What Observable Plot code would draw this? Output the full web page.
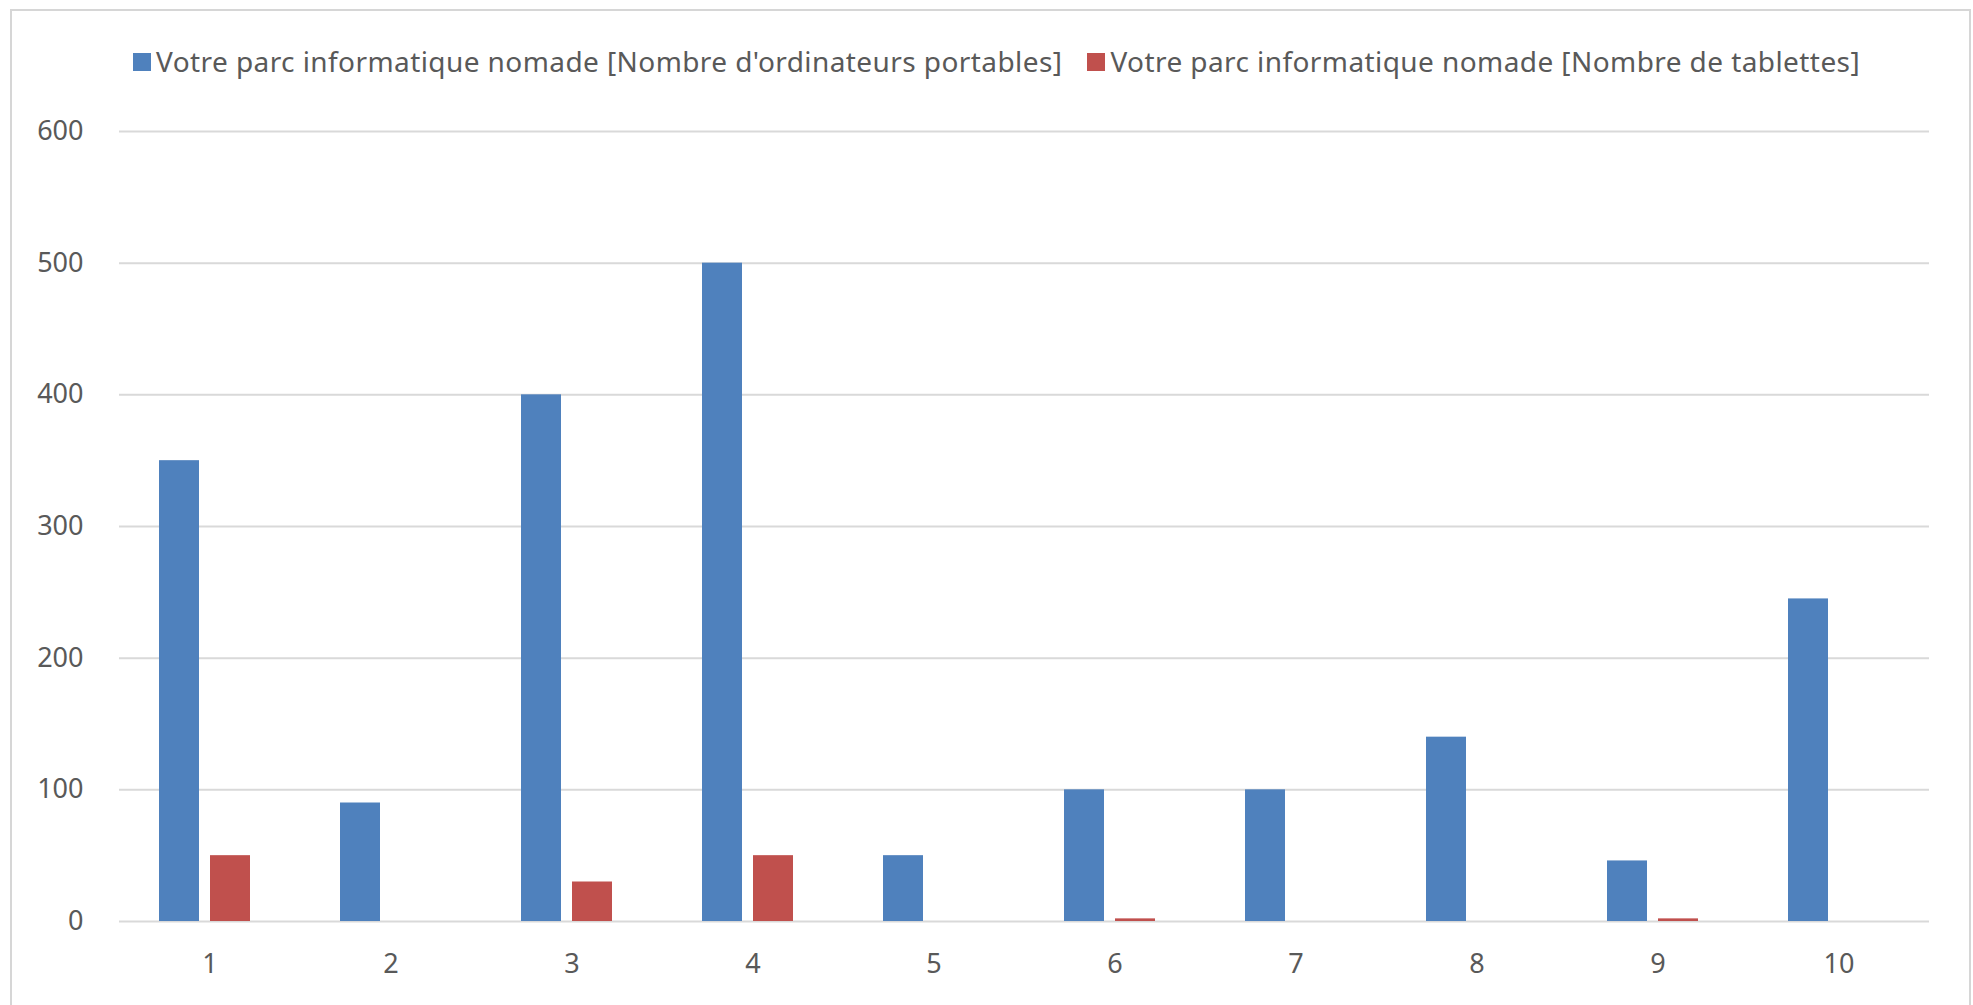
<!DOCTYPE html>
<html>
<head>
<meta charset="utf-8">
<script src="https://cdn.jsdelivr.net/npm/d3@7"></script>
<script src="https://cdn.jsdelivr.net/npm/@observablehq/plot@0.6"></script>
<style>
  html, body { margin: 0; padding: 0; background: #ffffff; }
  body { width: 1973px; height: 1005px; position: relative; overflow: hidden; font-family: 'Noto Sans', 'Open Sans', sans-serif; }
  #frame { position: absolute; left: 10px; top: 9px; width: 1961px; height: 1010px; box-sizing: border-box;
           border: 2px solid #d6d6d6; border-bottom: none; pointer-events: none; }
  #legend { position: relative; height: 100px; }
  #legend .inner { position: absolute; left: 133px; top: 47px; display: flex; align-items: center;
                   font-size: 28px; line-height: 28px; letter-spacing: 0.42px; color: #595959; white-space: nowrap; }
  #legend .item { display: inline-flex; align-items: center; margin-right: 25px; }
  #legend .sw { width: 18px; height: 18px; margin-right: 5px; display: inline-block; margin-top: 2px; }
  #chart svg { display: block; }
</style>
</head>
<body>
<div id="legend"><div class="inner"></div></div>
<div id="chart"></div>
<div id="frame"></div>
<script>
const categories = ["1", "2", "3", "4", "5", "6", "7", "8", "9", "10"];
const seriesNames = [
  "Votre parc informatique nomade [Nombre d'ordinateurs portables]",
  "Votre parc informatique nomade [Nombre de tablettes]"
];
const laptops = [350, 90, 400, 500, 50, 100, 100, 140, 46, 245];
const tablets = [50, 0, 30, 50, 0, 2, 0, 0, 2, 0];
const seriesColors = ["#4f81bd", "#c0504d"];
const yTicks = [0, 100, 200, 300, 400, 500, 600];

const seriesValues = [laptops, tablets];
const table = categories.flatMap((c, i) =>
  seriesNames.map((s, k) => ({category: c, series: s, value: seriesValues[k][i]}))
);

// legend (HTML, above the SVG)
const inner = document.querySelector("#legend .inner");
seriesNames.forEach((s, k) => {
  const item = document.createElement("span");
  item.className = "item";
  const sw = document.createElement("span");
  sw.className = "sw";
  sw.style.background = seriesColors[k];
  const t = document.createElement("span");
  t.textContent = s;
  item.appendChild(sw);
  item.appendChild(t);
  inner.appendChild(item);
});

const chart = Plot.plot({
  width: 1973,
  height: 905,
  marginLeft: 118,
  marginRight: 43,
  marginTop: 31,
  marginBottom: 84,
  style: {
    fontFamily: "'Noto Sans', 'Open Sans', sans-serif",
    fontSize: "27px",
    color: "#595959",
    background: "transparent",
    overflow: "visible"
  },
  fx: {domain: categories, paddingInner: 0, paddingOuter: 0, label: null},
  x: {domain: seriesNames, paddingInner: 0.21, paddingOuter: 0.85, align: 0.45, axis: null},
  y: {domain: [0, 600], label: null},
  color: {domain: seriesNames, range: seriesColors},
  marks: [
    Plot.gridY(yTicks, {stroke: "#d9d9d9", strokeOpacity: 1, strokeWidth: 2}),
    Plot.barY(table, {fx: "category", x: "series", y: "value", fill: "series"}),
    Plot.axisY(yTicks, {tickSize: 0, tickPadding: 36, label: null}),
    Plot.axisFx({anchor: "bottom", tickSize: 0, tickPadding: 32, label: null})
  ]
});
document.getElementById("chart").appendChild(chart);
</script>
</body>
</html>
